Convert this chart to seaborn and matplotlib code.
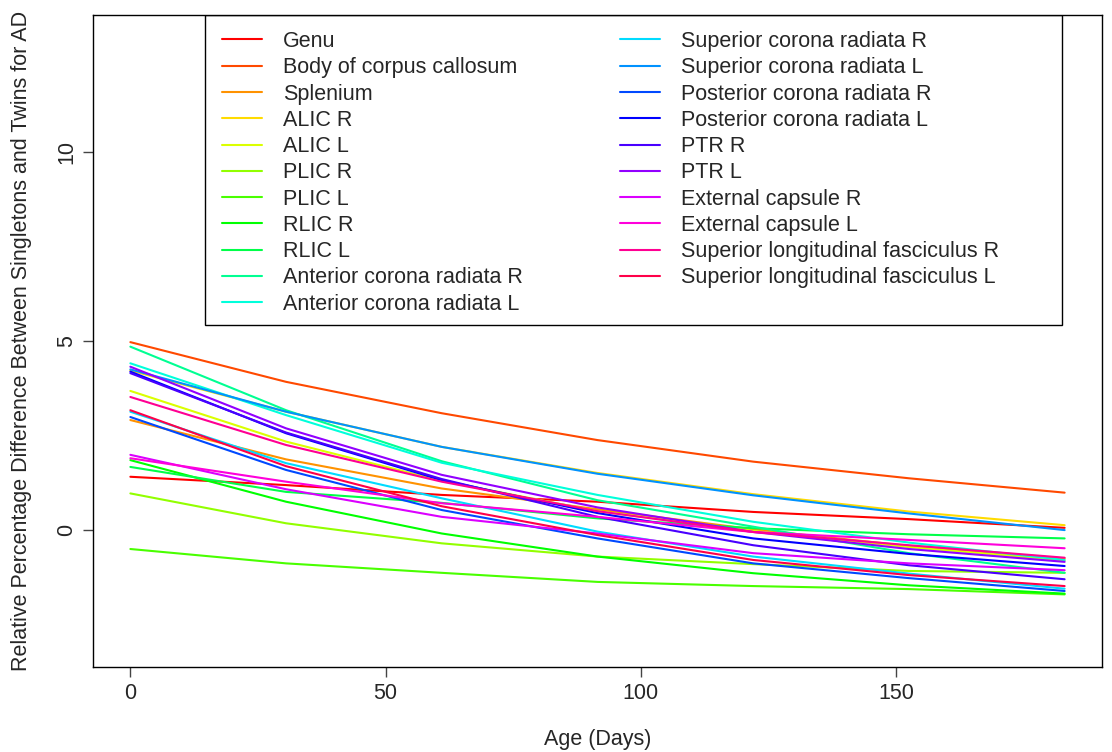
import numpy as np
import pandas as pd
import matplotlib
matplotlib.use("Agg")
import matplotlib.pyplot as plt
import matplotlib.colors as mcolors
from matplotlib.lines import Line2D
from matplotlib.patches import Rectangle
import seaborn as sns

# Age points (days)
ages = [0, 30.5, 61, 91.5, 122, 152.5, 183]

# Tract names, in legend order
tracts = [
    "Genu", "Body of corpus callosum", "Splenium", "ALIC R", "ALIC L",
    "PLIC R", "PLIC L", "RLIC R", "RLIC L",
    "Anterior corona radiata R", "Anterior corona radiata L",
    "Superior corona radiata R", "Superior corona radiata L",
    "Posterior corona radiata R", "Posterior corona radiata L",
    "PTR R", "PTR L", "External capsule R", "External capsule L",
    "Superior longitudinal fasciculus R", "Superior longitudinal fasciculus L",
]

# Relative percentage difference for each tract at each age
genu = [1.41, 1.19, 0.93, 0.75, 0.48, 0.29, 0.06]
body_cc = [4.97, 3.92, 3.09, 2.38, 1.81, 1.37, 0.99]
splenium = [2.91, 1.87, 1.10, 0.55, 0.02, -0.42, -0.75]
alic_r = [4.22, 3.13, 2.20, 1.51, 0.95, 0.49, 0.13]
alic_l = [3.68, 2.34, 1.30, 0.50, -0.02, -0.45, -0.80]
plic_r = [0.97, 0.18, -0.35, -0.70, -0.90, -1.08, -1.13]
plic_l = [-0.50, -0.88, -1.13, -1.37, -1.48, -1.56, -1.70]
rlic_r = [1.85, 0.75, -0.09, -0.70, -1.14, -1.46, -1.68]
rlic_l = [1.67, 1.01, 0.72, 0.31, 0.05, -0.11, -0.22]
acr_r = [4.85, 3.17, 1.82, 0.79, 0.09, -0.61, -1.13]
acr_l = [4.41, 3.04, 1.78, 0.93, 0.22, -0.33, -0.79]
scr_r = [3.13, 1.77, 0.84, -0.04, -0.70, -1.15, -1.55]
scr_l = [4.25, 3.13, 2.20, 1.49, 0.92, 0.44, 0.00]
pcr_r = [2.99, 1.59, 0.53, -0.22, -0.88, -1.27, -1.61]
pcr_l = [4.19, 2.56, 1.32, 0.45, -0.22, -0.63, -0.95]
ptr_r = [4.15, 2.58, 1.35, 0.35, -0.40, -0.93, -1.30]
ptr_l = [4.32, 2.69, 1.46, 0.60, -0.05, -0.50, -0.84]
ext_r = [1.99, 1.08, 0.35, -0.09, -0.61, -0.88, -1.06]
ext_l = [1.90, 1.28, 0.71, 0.35, -0.05, -0.26, -0.48]
slf_r = [3.52, 2.25, 1.28, 0.50, -0.05, -0.40, -0.73]
slf_l = [3.17, 1.69, 0.63, -0.13, -0.79, -1.19, -1.48]

values = [genu, body_cc, splenium, alic_r, alic_l, plic_r, plic_l, rlic_r, rlic_l,
          acr_r, acr_l, scr_r, scr_l, pcr_r, pcr_l, ptr_r, ptr_l,
          ext_r, ext_l, slf_r, slf_l]

# Long-format table for seaborn
rows = []
for name, vals in zip(tracts, values):
    for a, v in zip(ages, vals):
        rows.append({"Age": a, "Diff": v, "Tract": name})
df = pd.DataFrame(rows)

# R-style rainbow palette
n = len(tracts)
colors = [mcolors.hsv_to_rgb((i / n, 1, 1)) for i in range(n)]

sns.set_style("white")
plt.rcParams['font.family'] = ['Liberation Sans', 'DejaVu Sans']
fs = 15.5

fig = plt.figure(figsize=(11.12, 7.52), dpi=100)
ax = fig.add_axes([93 / 1112, 1 - 667 / 752, 1009 / 1112, 652 / 752])

sns.lineplot(data=df, x="Age", y="Diff", hue="Tract", hue_order=tracts,
             palette=colors, linewidth=1.5, ax=ax, legend=False)

ax.set_xlim(-7.32, 190.32)
ax.set_ylim(-3.62, 13.62)
ax.set_xticks([0, 50, 100, 150])
ax.set_yticks([0, 5, 10])
ax.set_yticklabels(["0", "5", "10"], rotation=90, va="center")
ax.tick_params(axis="both", direction="out", length=7, width=1, color="#444444",
               labelsize=fs, pad=4.5, left=True, bottom=True)
for s in ax.spines.values():
    s.set_color("black")
    s.set_linewidth(1)
ax.set_xlabel("Age (Days)", fontsize=fs, labelpad=18)
ax.set_ylabel("Relative Percentage Difference Between Singletons and Twins for AD",
              fontsize=fs, labelpad=17)

# legend box like R's legend()
handles = [Line2D([], [], color=c, lw=1.5) for c in colors]
half = 11
kw = dict(loc="upper left", frameon=False, fontsize=fs, handlelength=1.86,
          handletextpad=0.98, labelspacing=0.245, borderaxespad=0, borderpad=0)
leg1 = ax.legend(handles[:half], tracts[:half],
                 bbox_to_anchor=((222 - 93) / 1009, 1 - 16 / 652), **kw)
ax.add_artist(leg1)
leg2 = ax.legend(handles[half:], tracts[half:],
                 bbox_to_anchor=((620 - 93) / 1009, 1 - 16 / 652), **kw)
ax.add_patch(Rectangle(((205 - 93) / 1009, (667 - 325) / 652), (1062 - 205) / 1009,
                       (325 - 15) / 652, transform=ax.transAxes, fill=False,
                       edgecolor="black", lw=1, zorder=5))

fig.savefig("out.png", dpi=100)
